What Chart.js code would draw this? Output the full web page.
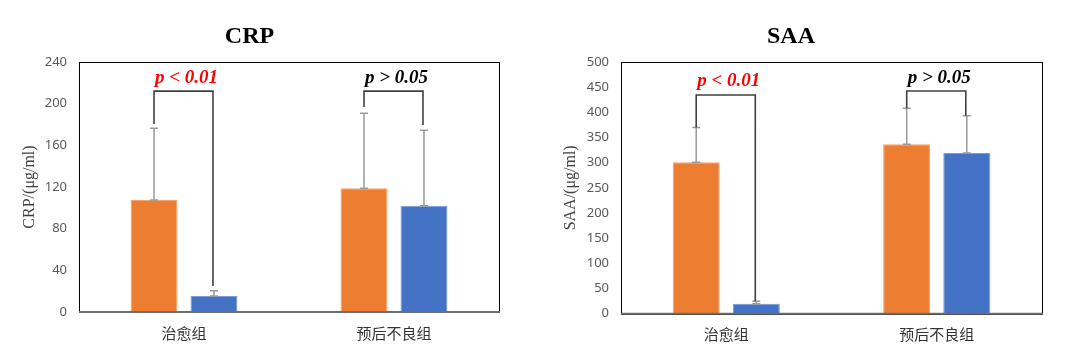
<!DOCTYPE html>
<html>
<head>
<meta charset="utf-8">
<script src="https://cdn.jsdelivr.net/npm/chart.js@4/dist/chart.umd.min.js"></script>
<style>
  html, body { margin: 0; padding: 0; background: #fff; }
  #wrap { position: relative; width: 1080px; height: 361px; }
  canvas { position: absolute; top: 0; }
  #c1 { left: 0; }
  #c2 { left: 540px; }
</style>
</head>
<body>
<div id="wrap">
  <canvas id="c1" width="540" height="361"></canvas>
  <canvas id="c2" width="540" height="361"></canvas>
</div>
<script>
// ---------- data ----------
const categories = ['治愈组', '预后不良组'];

// CRP (μg/ml)
const crpTicks = [0, 40, 80, 120, 160, 200, 240];
const crpOrange = [107.5, 118.7];
const crpOrangeSD = [68.8, 72.0];
const crpBlue = [15.4, 102.0];
const crpBlueSD = [5.1, 72.4];
const crpBracketTop = [212, 212];
const crpBracketLeftEnd = [180.5, 196.8];
const crpBracketRightEnd = [25, 179.5];
const crpPLabels = ['p < 0.01', 'p > 0.05'];
const crpPLabelY = [225, 225];

// SAA (μg/ml)
const saaTicks = [0, 50, 100, 150, 200, 250, 300, 350, 400, 450, 500];
const saaOrange = [300.8, 336.6];
const saaOrangeSD = [69.2, 71.4];
const saaBlue = [19.9, 319.3];
const saaBlueSD = [4.7, 73.7];
const saaBracketTop = [434.5, 442.5];
const saaBracketLeftEnd = [370, 408];
const saaBracketRightEnd = [24.6, 393];
const saaPLabels = ['p < 0.01', 'p > 0.05'];
const saaPLabelY = [462, 469];

// ---------- styles ----------
const ORANGE = '#ED7D31', ORANGE_EDGE = '#F3A46E';
const BLUE = '#4472C4', BLUE_EDGE = '#7A9BD6';
const pColors = ['#FF0000', '#000000'];

function makeChart(canvasId, cfg) {
  const annotate = {
    id: 'annotate',
    afterDatasetsDraw(chart) {
      const ctx = chart.ctx;
      const y = chart.scales.y;
      const area = chart.chartArea;
      const m0 = chart.getDatasetMeta(0);
      const m1 = chart.getDatasetMeta(1);
      const sets = [[m0, cfg.orange, cfg.orangeSD], [m1, cfg.blue, cfg.blueSD]];
      ctx.save();
      // error bars
      ctx.strokeStyle = '#9A9A9A';
      ctx.lineWidth = 1.5;
      sets.forEach(([meta, vals, sds]) => {
        meta.data.forEach((bar, i) => {
          const x = bar.x;
          const yTop = y.getPixelForValue(vals[i] + sds[i]);
          const yBase = y.getPixelForValue(vals[i]);
          ctx.beginPath();
          ctx.moveTo(x, yBase); ctx.lineTo(x, yTop);
          ctx.moveTo(x - 4, yTop); ctx.lineTo(x + 4, yTop);
          ctx.moveTo(x - 4, yBase); ctx.lineTo(x + 4, yBase);
          ctx.stroke();
        });
      });
      // brackets
      ctx.strokeStyle = '#404040';
      ctx.lineWidth = 1.6;
      categories.forEach((c, i) => {
        const xl = m0.data[i].x, xr = m1.data[i].x - 1;
        const yt = y.getPixelForValue(cfg.bracketTop[i]);
        ctx.beginPath();
        ctx.moveTo(xl, y.getPixelForValue(cfg.bracketLeftEnd[i]));
        ctx.lineTo(xl, yt);
        ctx.lineTo(xr, yt);
        ctx.lineTo(xr, y.getPixelForValue(cfg.bracketRightEnd[i]));
        ctx.stroke();
        ctx.font = 'italic bold 19px "Liberation Serif", "Times New Roman", serif';
        ctx.fillStyle = pColors[i];
        ctx.textAlign = 'center';
        ctx.textBaseline = 'middle';
        ctx.fillText(cfg.pLabels[i], (xl + xr) / 2 + 3, y.getPixelForValue(cfg.pLabelY[i]));
      });
      // frame
      ctx.strokeStyle = '#000';
      ctx.lineWidth = 1;
      ctx.strokeRect(Math.round(area.left) + 0.5, Math.round(area.top) + 0.5,
                     Math.round(area.right - area.left), Math.round(area.bottom - area.top));
      ctx.strokeStyle = '#6E6E6E';
      ctx.lineWidth = 2;
      ctx.beginPath();
      ctx.moveTo(area.left, area.bottom); ctx.lineTo(area.right + 1, area.bottom);
      ctx.stroke();
      ctx.restore();
    }
  };

  return new Chart(document.getElementById(canvasId), {
    type: 'bar',
    data: {
      labels: categories,
      datasets: [
        { data: cfg.orange, backgroundColor: ORANGE, borderColor: ORANGE_EDGE, borderWidth: 1,
          categoryPercentage: 0.571, barPercentage: 0.783 },
        { data: cfg.blue, backgroundColor: BLUE, borderColor: BLUE_EDGE, borderWidth: 1,
          categoryPercentage: 0.571, barPercentage: 0.783 }
      ]
    },
    options: {
      responsive: false,
      animation: false,
      devicePixelRatio: 1,
      layout: { padding: { left: 0, right: cfg.padRight, top: 0, bottom: 0 } },
      plugins: {
        legend: { display: false },
        tooltip: { enabled: false },
        title: {
          display: true,
          text: cfg.title,
          color: '#000',
          font: { family: '"Liberation Serif", "Times New Roman", serif', size: 24, weight: 'bold' },
          padding: { top: 22, bottom: 11.2 }
        }
      },
      scales: {
        x: {
          grid: { display: false, drawTicks: false },
          border: { display: false },
          ticks: { color: '#333', font: { family: '"Noto Sans CJK SC", sans-serif', size: 15 }, padding: 12 },
          afterFit(s) { s.height = cfg.xHeight; }
        },
        y: {
          min: cfg.ticks[0],
          max: cfg.ticks[cfg.ticks.length - 1],
          afterBuildTicks(s) { s.ticks = cfg.ticks.map(v => ({ value: v })); },
          grid: { display: false, drawTicks: false },
          border: { display: false },
          ticks: { color: '#595959', font: { family: '"Noto Sans", sans-serif', size: 13 }, padding: 12 },
          title: {
            display: true,
            text: cfg.yTitle,
            color: '#404040',
            font: { family: '"Liberation Serif", "Times New Roman", serif', size: 16 },
            padding: { top: cfg.yTitlePad, bottom: 0 }
          },
          afterFit(s) { s.width = cfg.yWidth; }
        }
      }
    },
    plugins: [annotate]
  });
}

makeChart('c1', {
  title: 'CRP', yTitle: 'CRP/(μg/ml)', ticks: crpTicks,
  orange: crpOrange, orangeSD: crpOrangeSD, blue: crpBlue, blueSD: crpBlueSD,
  bracketTop: crpBracketTop, bracketLeftEnd: crpBracketLeftEnd, bracketRightEnd: crpBracketRightEnd,
  pLabels: crpPLabels, pLabelY: crpPLabelY,
  padRight: 41, yWidth: 79, xHeight: 49, yTitlePad: 20.4
});

makeChart('c2', {
  title: 'SAA', yTitle: 'SAA/(μg/ml)', ticks: saaTicks,
  orange: saaOrange, orangeSD: saaOrangeSD, blue: saaBlue, blueSD: saaBlueSD,
  bracketTop: saaBracketTop, bracketLeftEnd: saaBracketLeftEnd, bracketRightEnd: saaBracketRightEnd,
  pLabels: saaPLabels, pLabelY: saaPLabelY,
  padRight: 38, yWidth: 81, xHeight: 47.3, yTitlePad: 21
});
</script>
</body>
</html>
